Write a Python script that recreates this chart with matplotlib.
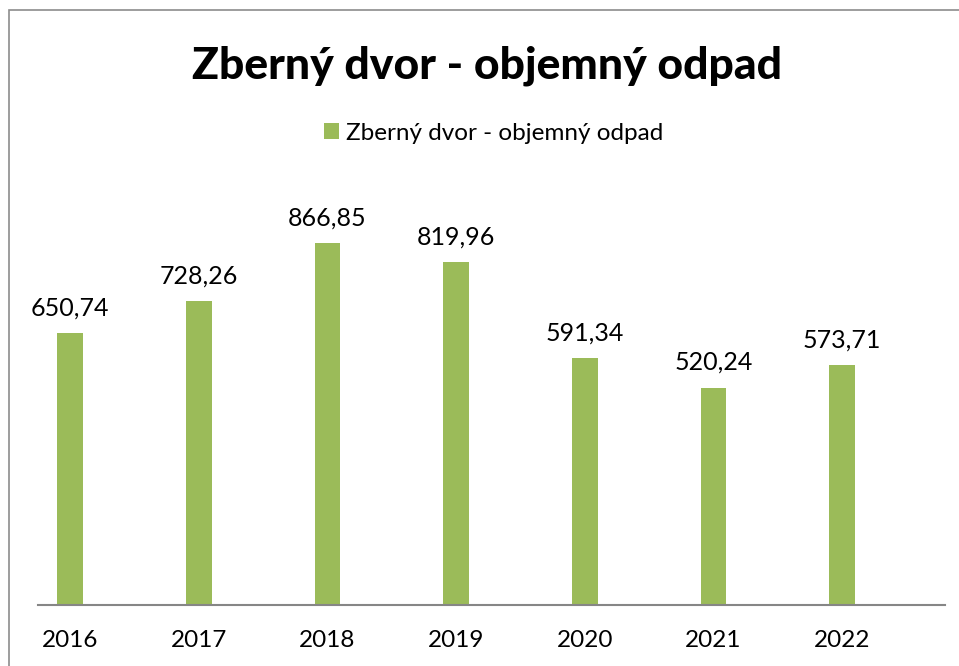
import matplotlib.pyplot as plt
from matplotlib.patches import Rectangle

years = ["2016", "2017", "2018", "2019", "2020", "2021", "2022"]
values = [650.74, 728.26, 866.85, 819.96, 591.34, 520.24, 573.71]
labels = ["650,74", "728,26", "866,85", "819,96", "591,34", "520,24", "573,71"]

green = "#9BBB59"
plt.rcParams['font.family'] = ['Lato', 'DejaVu Sans']

W, H = 959, 666
fig = plt.figure(figsize=(W / 100, H / 100), dpi=100)
fig.patch.set_facecolor("white")

# outer chart border (only top/left visible, rest is cropped)
fig.patches.append(Rectangle((9 / W, -0.1), 1.2, (H - 10) / H + 0.1, transform=fig.transFigure,
                             fill=False, edgecolor="#8c8c8c", linewidth=1.2))

ax = fig.add_axes([38 / W, 61 / H, (945 - 38) / W, 418 / H])
x = list(range(len(years)))
ax.bar(x, values, width=0.2, color=green, label="Zberný dvor - objemný odpad", zorder=2)
ax.set_xlim(-0.249, 6.80)
ax.set_ylim(0, 1000)

for xi, v, lab in zip(x, values, labels):
    ax.annotate(lab, (xi, v), xytext=(0, 18), textcoords="offset points",
                ha="center", va="center", fontsize=18, color="black")

for s in ["top", "right", "left"]:
    ax.spines[s].set_visible(False)
ax.spines["bottom"].set_color("#868686")
ax.spines["bottom"].set_linewidth(1.5)
ax.set_yticks([])
ax.set_xticks(x)
ax.set_xticklabels(years, fontsize=17.5)
ax.tick_params(axis="x", length=0, pad=18)

fig.text(487 / W, 1 - 66 / H, "Zberný dvor - objemný odpad", ha="center", va="center",
         fontsize=32, fontweight="black")
fig.legend(loc="center", bbox_to_anchor=(494 / W, 1 - 133 / H), frameon=False,
           fontsize=17.5, handlelength=0.6, handleheight=0.6, handletextpad=0.3)

fig.savefig("out.png", dpi=100)
